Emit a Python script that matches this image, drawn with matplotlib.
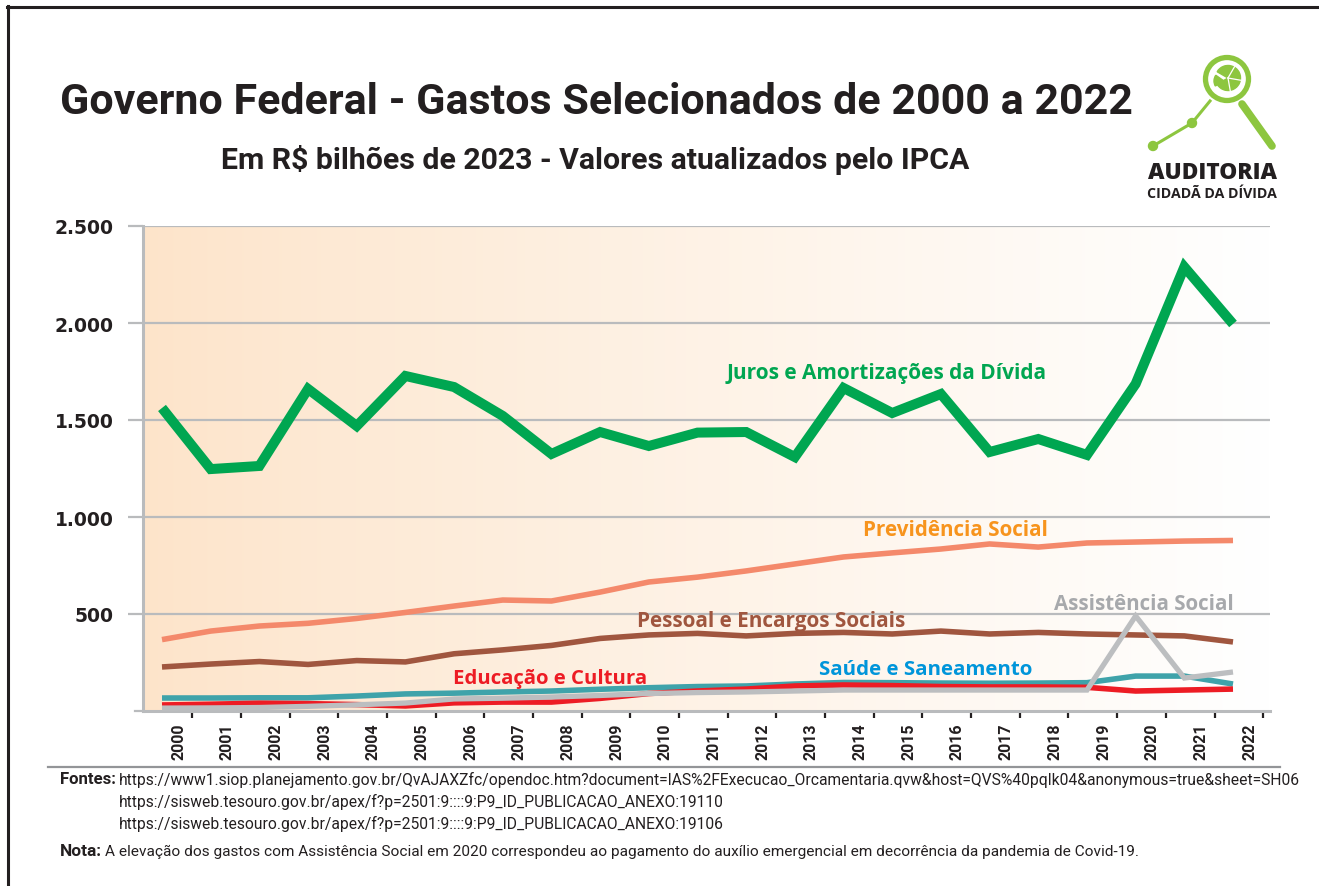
import numpy as np
import matplotlib
matplotlib.use('Agg')
import matplotlib.pyplot as plt
from matplotlib.patches import Circle, Wedge
from matplotlib.lines import Line2D
import logging
logging.getLogger('matplotlib.font_manager').setLevel(logging.ERROR)

W, H = 1319, 887

years = [str(y) for y in range(2000, 2023)]
juros = [1562, 1247, 1263, 1660, 1469, 1727, 1670, 1521, 1325, 1438, 1366, 1435,
         1438, 1309, 1665, 1536, 1634, 1335, 1402, 1320, 1686, 2289, 1995]
previdencia = [368, 412, 438, 452, 477, 508, 541, 572, 567, 613, 665, 690,
               722, 758, 794, 815, 835, 861, 845, 866, 871, 876, 879]
pessoal = [227, 242, 255, 240, 260, 253, 295, 315, 338, 374, 392, 400,
           387, 400, 405, 397, 412, 397, 405, 397, 392, 387, 356]
saude = [67, 67, 68, 68, 77, 88, 92, 98, 103, 112, 120, 126,
         129, 139, 147, 146, 144, 143, 144, 146, 180, 180, 139]
educacao = [31, 35, 40, 38, 33, 26, 42, 46, 46, 65, 90, 103,
            113, 129, 134, 131, 126, 124, 124, 122, 103, 108, 113]
assistencia = [15, 16, 18, 24, 32, 41, 62, 66, 72, 80, 90, 95,
               98, 103, 108, 108, 108, 108, 108, 108, 490, 170, 201]
yticks = [500, 1000, 1500, 2000, 2500]
ytick_labels = ['500', '1.000', '1.500', '2.000', '2.500']

C_GREEN = '#00A651'
C_PREV = '#F4896B'
C_PESS = '#A0563F'
C_SAUDE = '#3FA3AA'
C_EDU = '#ED1C24'
C_ASSIST = '#BCBEC0'
C_GRID = '#B9BBBD'
C_DARK = '#231F20'

COND = ['Roboto', 'DejaVu Sans']
BOLDF = ['Open Sans', 'DejaVu Sans']

fig = plt.figure(figsize=(W / 100, H / 100), dpi=100)
fig.patch.set_facecolor('white')
renderer = fig.canvas.get_renderer()


def px(x, y):
    return x / W, 1 - y / H


def fit(t, width):
    for _ in range(3):
        bb = t.get_window_extent(renderer)
        t.set_fontsize(t.get_fontsize() * width / bb.width)
    return t


def ftext(x, y, s, width=None, **kw):
    t = fig.text(*px(x, y), s, **kw)
    if width is not None:
        fit(t, width)
    return t


# main axes
ax = fig.add_axes([143 / W, 1 - 712 / H, (1270 - 143) / W, (712 - 227) / H])
unit = (1233 - 162) / 22
ax.set_xlim(-(162 - 143) / unit, 22 + (1270 - 1233) / unit)
ax.set_ylim(0, 2500)

grad = np.linspace(0, 1, 512)
c0 = np.array([253, 228, 202]) / 255
c1 = np.array([255, 255, 255]) / 255
img = c0[None, :] * (1 - grad[:, None] ** 0.9) + c1[None, :] * grad[:, None] ** 0.9
ax.imshow(img[None, :, :], extent=[0, 1, 0, 1], transform=ax.transAxes,
          aspect='auto', zorder=0)

for v in yticks:
    ax.axhline(v, color=C_GRID, lw=1.6, zorder=1)

for s in ['top', 'right']:
    ax.spines[s].set_visible(False)
ax.spines['left'].set_color(C_GRID)
ax.spines['left'].set_linewidth(2.2)
ax.spines['bottom'].set_color(C_GRID)
ax.spines['bottom'].set_linewidth(2.2)

ax.set_yticks(yticks)
ax.set_yticklabels(ytick_labels, fontsize=13.5, fontweight='bold', color=C_DARK,
                   family='DejaVu Sans')
ax.tick_params(axis='y', length=11, width=1.6, color=C_GRID, pad=10)

xi = np.arange(len(years))
ax.set_xticks(xi + 0.34)
ax.set_xticklabels(years, rotation=90, fontsize=11.5, fontweight='bold',
                   color=C_DARK, family=COND, va='top', ha='center')
ax.tick_params(axis='x', which='major', length=0, pad=8)
ax.set_xticks(xi + 0.62, minor=True)
ax.tick_params(axis='x', which='minor', length=5, width=1.6, color=C_DARK)

lk = dict(solid_joinstyle='miter', solid_capstyle='butt', zorder=3)
ax.plot(xi, pessoal, color=C_PESS, lw=4.0, **lk)
ax.plot(xi, previdencia, color=C_PREV, lw=4.0, **lk)
ax.plot(xi, saude, color=C_SAUDE, lw=4.0, **lk)
ax.plot(xi, educacao, color=C_EDU, lw=4.0, **lk)
ax.plot(xi, assistencia, color=C_ASSIST, lw=3.8, **lk)
ax.plot(xi, juros, color=C_GREEN, lw=7.2, **lk)

# overlay in pixel space
ov = fig.add_axes([0, 0, 1, 1], zorder=5)
ov.set_xlim(0, W)
ov.set_ylim(H, 0)
ov.axis('off')
ov.patch.set_alpha(0)

# short tick at zero
ov.add_line(Line2D([135, 143], [712, 712], color=C_GRID, lw=1.6))

# frame
ov.add_line(Line2D([8, 8], [7, H], color=C_DARK, lw=2.2))
ov.add_line(Line2D([7, W], [8, 8], color=C_DARK, lw=2.2))
# separator
ov.add_line(Line2D([48, 1280], [768, 768], color='#939598', lw=1.6))

# logo
LG = '#8DC63F'
ov.add_line(Line2D([1153, 1192, 1210], [147, 124, 102], color=LG, lw=2.2))
ov.add_patch(Circle((1153, 147), 4.5, color=LG))
ov.add_patch(Circle((1192, 124), 4.5, color=LG))
ov.add_line(Line2D([1242, 1272], [105, 147], color=LG, lw=5.5, solid_capstyle='round'))
ov.add_patch(Circle((1227, 80), 21.5, fill=False, ec=LG, lw=3.8))
ov.add_patch(Wedge((1228, 79), 12.5, -150, 150, color=LG))
ov.add_patch(Wedge((1224, 82), 10, 150, 215, color=LG))
for ang in [-60, 10, 80]:
    a = np.deg2rad(ang)
    ov.add_line(Line2D([1228, 1228 + 13 * np.cos(a)], [79, 79 + 13 * np.sin(a)],
                       color='white', lw=0.9))

ftext(1212, 173, 'AUDITORIA', width=129, ha='center', va='center',
      fontweight='heavy', family=BOLDF, color=C_DARK, fontsize=18)
ftext(1212, 194, 'CIDADÃ DA DÍVIDA', width=130, ha='center', va='center',
      fontweight='bold', family=BOLDF, color=C_DARK, fontsize=10)

# titles
ftext(596.5, 102, 'Governo Federal - Gastos Selecionados de 2000 a 2022', width=1073,
      ha='center', va='center', fontweight='bold', family=COND, color=C_DARK,
      fontsize=34)
ftext(595, 160, 'Em R$ bilhões de 2023 - Valores atualizados pelo IPCA', width=750,
      ha='center', va='center', fontweight='bold', family=COND, color=C_DARK,
      fontsize=22)

# series labels
lab = dict(ha='center', va='center', fontweight='bold', family=BOLDF, fontsize=12)
ftext(887, 373, 'Juros e Amortizações da Dívida', width=320, color=C_GREEN, **lab)
ftext(955, 530, 'Previdência Social', width=185, color='#F7941D', **lab)
ftext(771, 622, 'Pessoal e Encargos Sociais', width=268, color=C_PESS, **lab)
ftext(1144, 604, 'Assistência Social', width=179, color='#A7A9AC', **lab)
ftext(926, 670, 'Saúde e Saneamento', width=213, color='#0095DA', **lab)
ftext(550, 679, 'Educação e Cultura', width=194, color=C_EDU, **lab)

# footnotes
fn = dict(ha='left', va='center', family=COND, color=C_DARK)
ftext(60, 780, 'Fontes:', width=56, fontweight='bold', **fn)
t1 = ftext(119, 780, 'https://www1.siop.planejamento.gov.br/QvAJAXZfc/opendoc.htm?document='
           'IAS%2FExecucao_Orcamentaria.qvw&host=QVS%40pqlk04&anonymous=true&sheet=SH06',
           width=1182, **fn)
fs = t1.get_fontsize()
ftext(119, 802, 'https://sisweb.tesouro.gov.br/apex/f?p=2501:9::::9:P9_ID_PUBLICACAO_ANEXO:19110',
      fontsize=fs, **fn)
ftext(119, 824, 'https://sisweb.tesouro.gov.br/apex/f?p=2501:9::::9:P9_ID_PUBLICACAO_ANEXO:19106',
      fontsize=fs, **fn)
ftext(60, 852, 'Nota:', width=42, fontweight='bold', **fn)
ftext(105, 852, 'A elevação dos gastos com Assistência Social em 2020 correspondeu ao '
      'pagamento do auxílio emergencial em decorrência da pandemia de Covid-19.',
      width=1036, **fn)

fig.savefig('out.png', dpi=100)
